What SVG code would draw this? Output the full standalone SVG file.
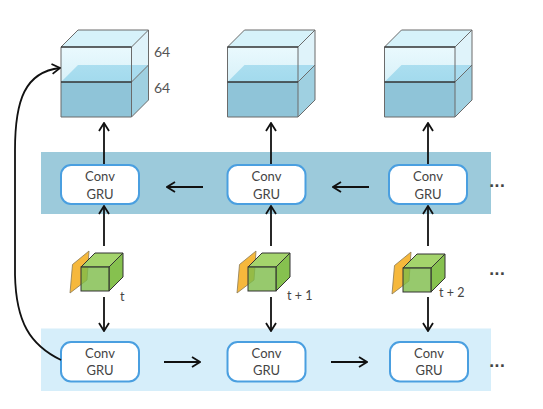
<svg xmlns="http://www.w3.org/2000/svg" xmlns:xlink="http://www.w3.org/1999/xlink" width="543" height="409" viewBox="0 0 543 409">
  <style>
    .lbl { font-family: Lato, "Open Sans", "Liberation Sans", sans-serif; font-size: 13px; fill: #444; text-anchor: middle; }
    .tl { font-family: Lato, "Open Sans", "Liberation Sans", sans-serif; font-size: 12.5px; fill: #444; }
    .dim { font-family: Lato, "Open Sans", "Liberation Sans", sans-serif; font-size: 14px; fill: #555; }
    .dots { font-family: "DejaVu Sans", sans-serif; font-size: 14px; font-weight: bold; fill: #444; }
    .box { fill: #fff; stroke: #4a9fe0; stroke-width: 2; }
    .arr { fill: none; stroke: #111; stroke-width: 1.8; marker-end: url(#head); }
    .edge { fill: none; stroke: #6b6b6b; stroke-width: 1; }
    .edge-dark { fill: none; stroke: #333; stroke-width: 1.6; }
  </style>
  <defs>
    <marker id="head" viewBox="0 0 10 12" refX="9" refY="6" markerWidth="10" markerHeight="12" markerUnits="userSpaceOnUse" orient="auto">
      <path d="M1,1 L9,6 L1,11" fill="none" stroke="#111" stroke-width="1.8"/>
    </marker>
    <linearGradient id="glass" x1="0" y1="0" x2="0" y2="1">
      <stop offset="0" stop-color="#d8f4fc"/>
      <stop offset="1" stop-color="#b8e5f3"/>
    </linearGradient>
    <!-- feature block: 64 + 64 channels stacked -->
    <g id="block">
      <polygon points="0,35 17,18 87.5,18 70.5,35" fill="#88cde6"/>
      <rect x="0" y="35" width="70.5" height="35" fill="#8fc4d8"/>
      <polygon points="70.5,35 87.5,18 87.5,53 70.5,70" fill="#9fd0e1"/>
      <rect x="0" y="0" width="70.5" height="35" fill="url(#glass)" fill-opacity="0.55"/>
      <polygon points="70.5,0 87.5,-17 87.5,18 70.5,35" fill="#c4eaf6" fill-opacity="0.55"/>
      <polygon points="0,0 17,-17 87.5,-17 70.5,0" fill="#d6f2fa"/>
      <path class="edge" d="M0,0 L17,-17 L87.5,-17 L70.5,0 M87.5,-17 L87.5,53 L70.5,70 L0,70 L0,0 M70.5,0 L70.5,70 M70.5,35 L87.5,18"/>
      <path class="edge-dark" d="M0,0 L70.5,0 M0,35 L70.5,35"/>
    </g>
    <!-- input frame + feature cube -->
    <g id="frame">
      <polygon points="-11,26 -8.5,-2.5 8,-16 6,13" fill="#f6b83c" stroke="#8a7a55" stroke-width="0.8"/>
      <polygon points="0,0 14,-14 42,-14 28,0" fill="#a4d46c" stroke="#333" stroke-width="1"/>
      <polygon points="28,0 42,-14 42,10 28,24" fill="#86c14f" stroke="#333" stroke-width="1"/>
      <rect x="0" y="0" width="28" height="24" fill="#7dbb48" fill-opacity="0.8" stroke="#333" stroke-width="1"/>
    </g>
  </defs>

  <!-- layer bands -->
  <rect id="band-upper" x="41" y="152" width="450" height="62" fill="#9ccadb"/>
  <rect id="band-lower" x="41" y="328.5" width="450" height="62.5" fill="#d6eefa"/>

  <!-- output feature blocks -->
  <g id="block-1">
    <use xlink:href="#block" x="61" y="47"/>
    <text class="dim" x="154" y="57">64</text>
    <text class="dim" x="154" y="93">64</text>
  </g>
  <g id="block-2"><use xlink:href="#block" x="227.5" y="47"/></g>
  <g id="block-3"><use xlink:href="#block" x="384.5" y="47"/></g>

  <!-- upper ConvGRU layer -->
  <g id="gru-up-1">
    <rect class="box" x="61" y="165" width="78" height="39" rx="10"/>
    <text class="lbl" x="100" y="181">Conv</text>
    <text class="lbl" x="100" y="199">GRU</text>
  </g>
  <g id="gru-up-2">
    <rect class="box" x="227.5" y="165" width="78" height="39" rx="10"/>
    <text class="lbl" x="266.5" y="181">Conv</text>
    <text class="lbl" x="266.5" y="199">GRU</text>
  </g>
  <g id="gru-up-3">
    <rect class="box" x="389" y="165" width="78" height="39" rx="10"/>
    <text class="lbl" x="428" y="181">Conv</text>
    <text class="lbl" x="428" y="199">GRU</text>
  </g>

  <!-- inputs -->
  <g id="input-t">
    <use xlink:href="#frame" x="81" y="267"/>
    <text class="tl" x="120" y="301">t</text>
  </g>
  <g id="input-t1">
    <use xlink:href="#frame" x="248" y="267"/>
    <text class="tl" x="287" y="300">t + 1</text>
  </g>
  <g id="input-t2">
    <use xlink:href="#frame" x="403" y="268"/>
    <text class="tl" x="439" y="297">t + 2</text>
  </g>

  <!-- lower ConvGRU layer -->
  <g id="gru-low-1">
    <rect class="box" x="61" y="342" width="78" height="39.5" rx="10"/>
    <text class="lbl" x="100" y="357.5">Conv</text>
    <text class="lbl" x="100" y="375">GRU</text>
  </g>
  <g id="gru-low-2">
    <rect class="box" x="227.5" y="342" width="78" height="39.5" rx="10"/>
    <text class="lbl" x="266.5" y="357.5">Conv</text>
    <text class="lbl" x="266.5" y="375">GRU</text>
  </g>
  <g id="gru-low-3">
    <rect class="box" x="390" y="342" width="78" height="39.5" rx="10"/>
    <text class="lbl" x="429" y="357.5">Conv</text>
    <text class="lbl" x="429" y="375">GRU</text>
  </g>

  <!-- continuation marks -->
  <g id="more">
    <text class="dots" x="489" y="187">...</text>
    <text class="dots" x="489" y="275">...</text>
    <text class="dots" x="489" y="367">...</text>
  </g>

  <!-- connectors -->
  <g id="connectors">
    <path class="arr" d="M104,164 L104,123"/>
    <path class="arr" d="M271,164 L271,123"/>
    <path class="arr" d="M428,164 L428,123"/>
    <path class="arr" d="M104,246 L104,206"/>
    <path class="arr" d="M271,246 L271,206"/>
    <path class="arr" d="M428,246 L428,206"/>
    <path class="arr" d="M104,297 L104,331"/>
    <path class="arr" d="M271,297 L271,331"/>
    <path class="arr" d="M428,297 L428,331"/>
    <path class="arr" d="M203,187 L167,187"/>
    <path class="arr" d="M369,187 L333,187"/>
    <path class="arr" d="M164,362 L200,362"/>
    <path class="arr" d="M331,362 L367,362"/>
    <path class="arr" d="M61,360 C30,345 16,322 15,275 L15,150 C15,100 25,72 60,68"/>
  </g>
</svg>
